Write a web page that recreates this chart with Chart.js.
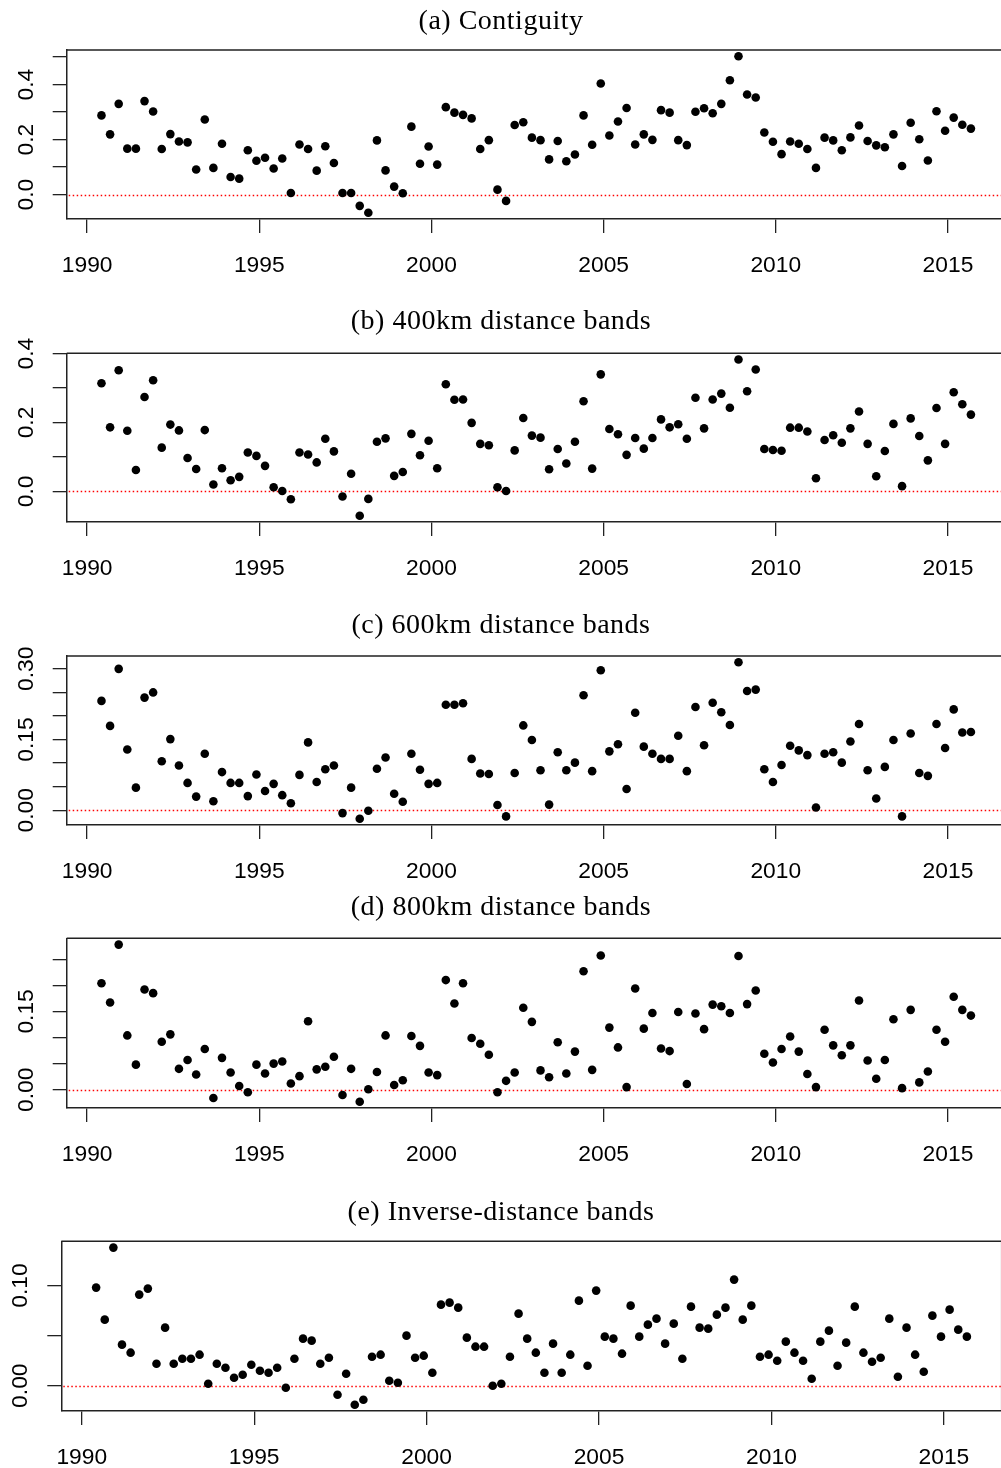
<!DOCTYPE html>
<html>
<head>
<meta charset="utf-8">
<title>Spatial autocorrelation over time</title>
<script src="https://cdn.jsdelivr.net/npm/chart.js@4.4.1/dist/chart.umd.min.js"></script>
<style>
  html, body { margin: 0; padding: 0; background: #fff; overflow: hidden; }
  #page { position: relative; width: 1001px; height: 1468px; overflow: hidden; }
  canvas { position: absolute; left: 0; }
</style>
</head>
<body>
<div id="page"></div>
<script>
// Quarterly observations, first one in Q2 1990 (plotted at year + 5/12)
const firstQuarter = 1990 + 5 / 12;
const nQuarters = 102;

const xTicks = [1990, 1995, 2000, 2005, 2010, 2015];

const contiguity = [0.288,0.219,0.330,0.167,0.167,0.340,0.302,0.166,0.220,0.193,
  0.190,0.091,0.273,0.097,0.185,0.064,0.058,0.161,0.123,0.134,
  0.095,0.131,0.006,0.182,0.166,0.087,0.176,0.115,0.006,0.006,
  -0.041,-0.066,0.197,0.088,0.029,0.005,0.247,0.112,0.175,0.109,
  0.318,0.298,0.290,0.277,0.166,0.198,0.018,-0.023,0.253,0.263,
  0.207,0.198,0.128,0.195,0.121,0.146,0.288,0.181,0.404,0.215,
  0.266,0.315,0.182,0.219,0.199,0.307,0.298,0.198,0.180,0.301,
  0.314,0.296,0.330,0.416,0.503,0.364,0.353,0.226,0.192,0.147,
  0.193,0.185,0.166,0.097,0.207,0.197,0.161,0.208,0.251,0.195,
  0.179,0.172,0.219,0.104,0.261,0.201,0.124,0.303,0.232,0.280,
  0.254,0.240];

const band400 = [0.314,0.186,0.352,0.176,0.062,0.274,0.323,0.127,0.194,0.177,
  0.097,0.065,0.178,0.020,0.067,0.032,0.042,0.113,0.103,0.074,
  0.012,0.001,-0.023,0.113,0.107,0.084,0.153,0.116,-0.015,0.051,
  -0.071,-0.022,0.144,0.154,0.045,0.056,0.167,0.105,0.147,0.067,
  0.311,0.266,0.267,0.199,0.138,0.134,0.012,0.001,0.119,0.213,
  0.162,0.156,0.064,0.123,0.081,0.144,0.262,0.066,0.340,0.181,
  0.166,0.106,0.155,0.124,0.155,0.209,0.186,0.195,0.153,0.272,
  0.183,0.267,0.284,0.243,0.383,0.291,0.354,0.123,0.120,0.118,
  0.185,0.185,0.174,0.038,0.149,0.163,0.141,0.183,0.232,0.138,
  0.044,0.117,0.196,0.015,0.212,0.161,0.090,0.242,0.138,0.288,
  0.253,0.223];

const band600 = [0.232,0.179,0.300,0.129,0.048,0.239,0.250,0.104,0.151,0.095,
  0.058,0.029,0.120,0.019,0.081,0.058,0.058,0.030,0.076,0.041,
  0.056,0.032,0.015,0.075,0.144,0.060,0.087,0.095,-0.006,0.048,
  -0.018,-0.001,0.088,0.112,0.035,0.018,0.120,0.086,0.056,0.058,
  0.224,0.224,0.227,0.109,0.078,0.077,0.011,-0.013,0.079,0.180,
  0.149,0.085,0.012,0.123,0.085,0.101,0.244,0.083,0.297,0.125,
  0.140,0.045,0.207,0.135,0.120,0.109,0.109,0.158,0.083,0.219,
  0.138,0.228,0.208,0.181,0.314,0.253,0.256,0.087,0.060,0.096,
  0.137,0.127,0.117,0.006,0.120,0.123,0.101,0.146,0.183,0.085,
  0.025,0.092,0.149,-0.013,0.163,0.079,0.073,0.183,0.132,0.214,
  0.165,0.166];

const band800 = [0.204,0.167,0.278,0.104,0.048,0.192,0.185,0.092,0.106,0.040,
  0.057,0.029,0.078,-0.016,0.061,0.033,0.007,-0.005,0.048,0.031,
  0.050,0.054,0.012,0.026,0.131,0.039,0.044,0.063,-0.010,0.040,
  -0.023,0.001,0.034,0.104,0.009,0.018,0.103,0.084,0.033,0.028,
  0.210,0.165,0.204,0.099,0.088,0.067,-0.005,0.017,0.033,0.157,
  0.130,0.037,0.024,0.091,0.031,0.073,0.227,0.038,0.257,0.119,
  0.081,0.005,0.194,0.117,0.147,0.079,0.074,0.149,0.011,0.146,
  0.116,0.163,0.160,0.147,0.256,0.164,0.190,0.069,0.052,0.078,
  0.102,0.073,0.030,0.005,0.115,0.085,0.066,0.085,0.171,0.056,
  0.021,0.057,0.135,0.003,0.153,0.014,0.035,0.115,0.092,0.178,
  0.153,0.142];

const inverseDist = [0.098,0.066,0.138,0.041,0.033,0.091,0.097,0.022,0.058,0.022,
  0.027,0.027,0.031,0.002,0.022,0.018,0.008,0.011,0.021,0.015,
  0.013,0.018,-0.002,0.027,0.047,0.045,0.022,0.028,-0.009,0.012,
  -0.019,-0.014,0.029,0.031,0.005,0.003,0.050,0.028,0.030,0.013,
  0.081,0.083,0.078,0.048,0.039,0.039,0.000,0.002,0.029,0.072,
  0.047,0.033,0.013,0.042,0.013,0.031,0.085,0.020,0.095,0.049,
  0.047,0.032,0.080,0.049,0.061,0.067,0.042,0.062,0.027,0.079,
  0.058,0.057,0.071,0.078,0.106,0.066,0.080,0.029,0.031,0.025,
  0.044,0.033,0.025,0.007,0.044,0.055,0.020,0.043,0.079,0.033,
  0.024,0.028,0.067,0.009,0.058,0.031,0.014,0.070,0.049,0.076,
  0.056,0.049];

// y ticks (marks) and which of them get a label
const yTicksA = [0, 0.1, 0.2, 0.3, 0.4, 0.5];
const yTicksB = [0, 0.1, 0.2, 0.3, 0.4];
const yTicksC = [0, 0.05, 0.10, 0.15, 0.20, 0.25, 0.30];
const yTicksD = [0, 0.05, 0.10, 0.15, 0.20, 0.25];
const yTicksE = [0, 0.05, 0.10];
const yLabelsA = ['0.0', '0.2', '0.4'];
const yLabelsB = ['0.0', '0.2', '0.4'];
const yLabelsC = ['0.00', '0.15', '0.30'];
const yLabelsD = ['0.00', '0.15'];
const yLabelsE = ['0.00', '0.10'];

const panels = [
  { title: '(a) Contiguity', values: contiguity, yTicks: yTicksA, yLabels: yLabelsA,
    boxTop: 50, boxBottom: 219, boxLeft: 66.7, width: 1010, titleY: 29.3 },
  { title: '(b) 400km distance bands', values: band400, yTicks: yTicksB, yLabels: yLabelsB,
    boxTop: 353.3, boxBottom: 522, boxLeft: 66.7, width: 1010, titleY: 329.3 },
  { title: '(c) 600km distance bands', values: band600, yTicks: yTicksC, yLabels: yLabelsC,
    boxTop: 656, boxBottom: 824.7, boxLeft: 66.7, width: 1010, titleY: 633 },
  { title: '(d) 800km distance bands', values: band800, yTicks: yTicksD, yLabels: yLabelsD,
    boxTop: 938.3, boxBottom: 1107.3, boxLeft: 66.7, width: 1010, titleY: 915 },
  { title: '(e) Inverse-distance bands', values: inverseDist, yTicks: yTicksE, yLabels: yLabelsE,
    boxTop: 1241.3, boxBottom: 1410.7, boxLeft: 61.3, width: 1006, titleY: 1220 }
];

const INK = '#222';
const TICK_FONT = '22.8px "Liberation Sans", Arial, sans-serif';
const TITLE_FONT = '28px "Liberation Serif", "Times New Roman", serif';
const X_AXIS_H = 57;
const TOP_PAD = 52;

// R-style range: data range extended by 4% on each side
function rRange(arr) {
  const lo = Math.min(...arr), hi = Math.max(...arr);
  const d = (hi - lo) * 0.04;
  return [lo - d, hi + d];
}

const quarters = [];
for (let k = 0; k < nQuarters; k++) quarters.push(firstQuarter + k / 4);
const [xMin, xMax] = rRange(quarters);

// Draws box top, zero line, tick labels and panel title
const rPlot = {
  id: 'rPlot',
  beforeDatasetsDraw(chart) {
    const { ctx, chartArea, scales } = chart;
    const y0 = Math.round(scales.y.getPixelForValue(0)) + 0.5;
    ctx.save();
    ctx.strokeStyle = '#ff0000';
    ctx.lineWidth = 1.3;
    ctx.setLineDash([1.5, 2.5]);
    ctx.beginPath();
    ctx.moveTo(chartArea.left + 2, y0);
    ctx.lineTo(chartArea.right, y0);
    ctx.stroke();
    ctx.restore();
  },
  afterDraw(chart) {
    const { ctx, chartArea, scales } = chart;
    const p = chart.options.plugins.rPlot;
    ctx.save();
    // top and right sides of the box
    ctx.strokeStyle = INK;
    ctx.lineWidth = 1.5;
    ctx.beginPath();
    ctx.moveTo(chartArea.left, chartArea.top);
    ctx.lineTo(chartArea.right, chartArea.top);
    ctx.lineTo(chartArea.right, chartArea.bottom);
    ctx.stroke();

    ctx.fillStyle = '#000';
    ctx.font = TICK_FONT;
    ctx.textBaseline = 'alphabetic';
    ctx.textAlign = 'center';
    xTicks.forEach(v => {
      ctx.fillText(String(v), scales.x.getPixelForValue(v), chartArea.bottom + 52.5);
    });
    p.yLabels.forEach(lbl => {
      const y = scales.y.getPixelForValue(parseFloat(lbl));
      ctx.save();
      ctx.translate(chartArea.left - 34, y);
      ctx.rotate(-Math.PI / 2);
      ctx.fillText(lbl, 0, 0);
      ctx.restore();
    });

    ctx.font = TITLE_FONT;
    ctx.letterSpacing = '0.5px';
    ctx.fillText(p.title, 501, p.titleY);
    ctx.restore();
  }
};

function makePanel(pn) {
  const canvasTop = Math.floor(pn.boxTop) - TOP_PAD;
  const padTop = pn.boxTop - canvasTop;
  const height = Math.ceil(pn.boxBottom - canvasTop + X_AXIS_H);
  const canvas = document.createElement('canvas');
  canvas.width = pn.width;
  canvas.height = height;
  canvas.style.top = canvasTop + 'px';
  canvas.style.width = pn.width + 'px';
  canvas.style.height = height + 'px';
  document.getElementById('page').appendChild(canvas);

  const [yMin, yMax] = rRange(pn.values);
  const pts = pn.values.map((v, i) => ({ x: quarters[i], y: v }));

  const axisGrid = {
    display: true,
    drawOnChartArea: false,
    drawTicks: true,
    tickLength: 14,
    color: INK,
    lineWidth: 1.3
  };

  new Chart(canvas, {
    type: 'scatter',
    data: {
      datasets: [{
        data: pts,
        pointRadius: 4.3,
        pointBorderWidth: 0,
        pointBackgroundColor: '#000',
        pointHoverRadius: 4.3
      }]
    },
    options: {
      responsive: false,
      animation: false,
      events: [],
      layout: { padding: { top: padTop, left: 0, right: 0, bottom: 0 } },
      plugins: {
        legend: { display: false },
        tooltip: { enabled: false },
        rPlot: { title: pn.title, yLabels: pn.yLabels, titleY: pn.titleY - canvasTop }
      },
      scales: {
        x: {
          type: 'linear',
          min: xMin,
          max: xMax,
          afterBuildTicks: s => { s.ticks = xTicks.map(v => ({ value: v })); },
          afterFit: s => { s.height = X_AXIS_H; },
          ticks: { display: false },
          grid: axisGrid,
          border: { display: true, color: INK, width: 1.5 }
        },
        y: {
          type: 'linear',
          min: yMin,
          max: yMax,
          afterBuildTicks: s => { s.ticks = pn.yTicks.map(v => ({ value: v })); },
          afterFit: s => { s.width = pn.boxLeft; },
          ticks: { display: false },
          grid: axisGrid,
          border: { display: true, color: INK, width: 1.5 }
        }
      }
    },
    plugins: [rPlot]
  });
}

panels.forEach(makePanel);
</script>
</body>
</html>
